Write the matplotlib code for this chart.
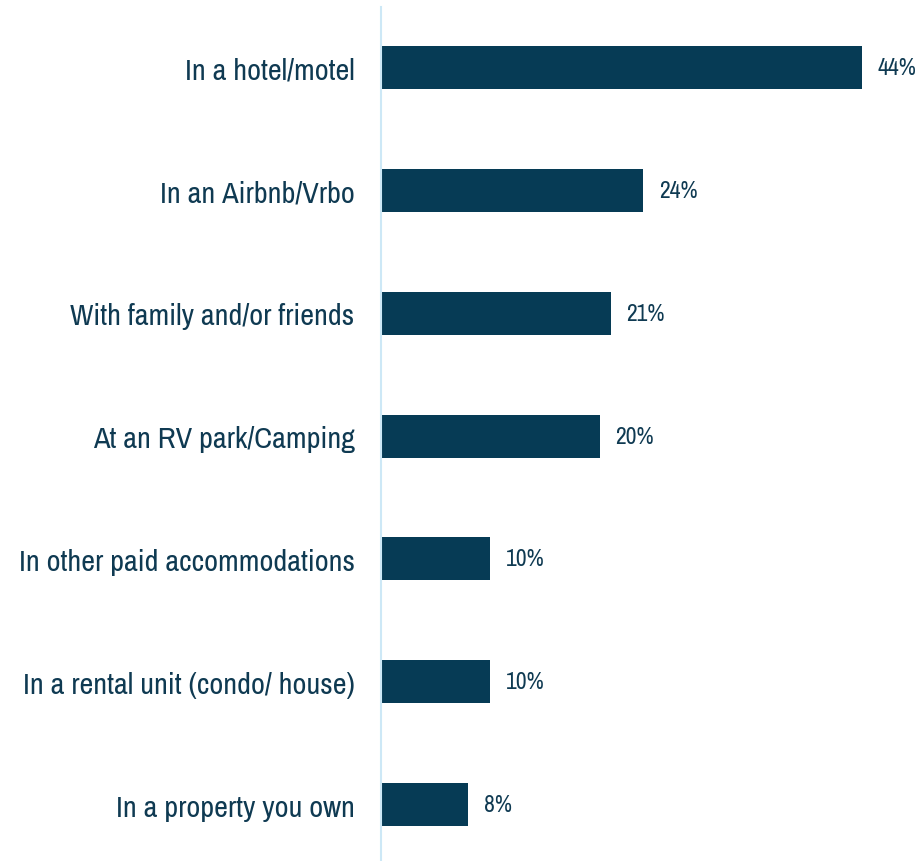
import matplotlib
matplotlib.use("Agg")
import matplotlib.pyplot as plt
from matplotlib import font_manager

categories = [
    "In a hotel/motel",
    "In an Airbnb/Vrbo",
    "With family and/or friends",
    "At an RV park/Camping",
    "In other paid accommodations",
    "In a rental unit (condo/ house)",
    "In a property you own",
]
values = [44, 24, 21, 20, 10, 10, 8]

# prefer a condensed sans face when one is installed
names = sorted({f.name for f in font_manager.fontManager.ttflist})
narrow = [n for n in names if "Narrow" in n or "Condensed" in n]
family = narrow[0] if narrow else "Roboto"
condensed = bool(narrow)

BAR = "#063b55"
TEXT = "#0f3a52"
AXIS = "#cde8f6"

fig = plt.figure(figsize=(9.24, 8.62), dpi=100)
ax = fig.add_axes([381 / 924, 0, 50 * 10.93 / 924, 1 - 8 / 862])

y = list(range(len(categories)))
ax.barh(y, values, height=0.35, color=BAR)
ax.set_xlim(0, 50)
ax.set_ylim(6.46, -0.495)

lab_size = 21.8 if condensed else 17.5
val_size = 17 if condensed else 13.5

for yi, v in zip(y, values):
    ax.annotate(f"{v}%", (v, yi), xytext=(16, 0), textcoords="offset pixels",
                ha="left", va="center", fontsize=val_size, color=TEXT, family=family)

ax.set_yticks(y)
ax.set_yticklabels(categories, fontsize=lab_size, color=TEXT, family=family)
ax.tick_params(axis="y", length=0, pad=19)
ax.set_xticks([])
for s in ["top", "right", "bottom"]:
    ax.spines[s].set_visible(False)
ax.spines["left"].set_color(AXIS)
ax.spines["left"].set_linewidth(1.5)

fig.savefig("out.png", dpi=100)
